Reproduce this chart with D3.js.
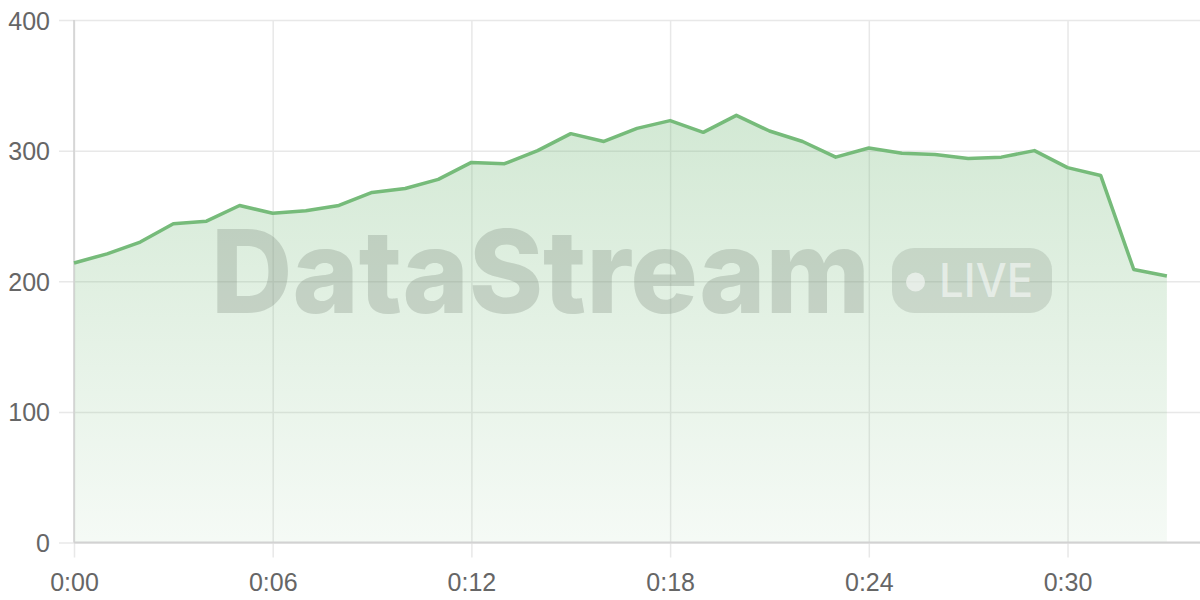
<!DOCTYPE html>
<html>
<head>
<meta charset="utf-8">
<script src="https://cdn.jsdelivr.net/npm/d3@7"></script>
<style>
  html, body { margin: 0; padding: 0; background: #fff; }
  svg { display: block; }
  .tick text { font-family: "Liberation Sans", Arial, sans-serif; font-size: 25px; fill: #666; }
</style>
</head>
<body>
<svg id="chart" width="1200" height="600"></svg>
<script>
// minutes since start, one sample per minute
const minutes = d3.range(0, 34);
const values = [214, 221, 230, 244, 246, 258, 252, 254, 258, 268,
                271, 278, 291, 290, 300, 313, 307, 317, 323, 314,
                327, 315, 307, 295, 302, 298, 297, 294, 295, 300,
                287, 281, 209, 204];
const xTicks = [0, 6, 12, 18, 24, 30];
const yTicks = [0, 100, 200, 300, 400];

const width = 1200, height = 600;
const margin = { top: 20, right: 0, bottom: 57.5, left: 74 };

const svg = d3.select("#chart");
const data = minutes.map((m, i) => ({ m, v: values[i] }));

const x = d3.scaleLinear().domain([0, 34]).range([margin.left, width - margin.right]);
const y = d3.scaleLinear().domain([0, 400]).range([height - margin.bottom, margin.top]);

// gradient for the area
const defs = svg.append("defs");
const grad = defs.append("linearGradient")
    .attr("id", "areaFill")
    .attr("gradientUnits", "userSpaceOnUse")
    .attr("x1", 0).attr("x2", 0)
    .attr("y1", y(d3.max(values))).attr("y2", y(0));
grad.append("stop").attr("offset", "0%").attr("stop-color", "#74b979").attr("stop-opacity", 0.32);
grad.append("stop").attr("offset", "100%").attr("stop-color", "#74b979").attr("stop-opacity", 0.07);

// horizontal grid + y labels
const yAxis = svg.append("g")
    .attr("transform", `translate(${margin.left},0)`)
    .call(d3.axisLeft(y).tickValues(yTicks).tickSize(15).tickPadding(9)
        .tickSizeInner(-(width - margin.left - margin.right)))
yAxis.select(".domain").remove();
yAxis.selectAll(".tick line").attr("stroke", "#e8e8e8").attr("stroke-width", 1.5)
    .attr("x1", -15);
yAxis.selectAll(".tick text").attr("x", -24).attr("dy", "0.36em");

// vertical grid + x labels
const xAxis = svg.append("g")
    .attr("transform", `translate(0,${margin.top})`)
    .call(d3.axisBottom(x).tickValues(xTicks)
        .tickSize(height - margin.bottom - margin.top + 15)
        .tickPadding(10)
        .tickFormat(m => `0:${String(m).padStart(2, "0")}`));
xAxis.select(".domain").remove();
xAxis.selectAll(".tick line").attr("stroke", "#e8e8e8").attr("stroke-width", 1.5);
xAxis.selectAll(".tick text").attr("dy", "0.95em");

// area
svg.append("path")
    .datum(data)
    .attr("fill", "url(#areaFill)")
    .attr("d", d3.area().x(d => x(d.m)).y0(y(0)).y1(d => y(d.v)));

// watermark
const wm = svg.append("g").attr("pointer-events", "none");
wm.append("text")
    .attr("x", 211).attr("y", 313)
    .attr("textLength", 659).attr("lengthAdjust", "spacingAndGlyphs")
    .style("font-family", "Inter, Roboto, sans-serif")
    .style("font-weight", 800)
    .style("font-size", "115px")
    .attr("fill", "#7f8a7f").attr("fill-opacity", 0.3)
    .text("DataStream");
wm.append("rect")
    .attr("x", 892).attr("y", 248).attr("width", 160).attr("height", 65).attr("rx", 22)
    .attr("fill", "#7f8a7f").attr("fill-opacity", 0.24);
wm.append("circle")
    .attr("cx", 915.5).attr("cy", 282).attr("r", 9.5)
    .attr("fill", "#fff").attr("fill-opacity", 0.55);
wm.append("text")
    .attr("x", 939).attr("y", 297)
    .attr("textLength", 94).attr("lengthAdjust", "spacingAndGlyphs")
    .style("font-family", "Inter, Roboto, sans-serif")
    .style("font-weight", 500)
    .style("font-size", "47px")
    .attr("fill", "#fff").attr("fill-opacity", 0.55)
    .text("LIVE");

// axis lines
svg.append("line")
    .attr("x1", x(0)).attr("x2", x(0))
    .attr("y1", margin.top).attr("y2", y(0))
    .attr("stroke", "#d0d0d0").attr("stroke-width", 1.5);
svg.append("line")
    .attr("x1", x(0)).attr("x2", width)
    .attr("y1", y(0)).attr("y2", y(0))
    .attr("stroke", "#d2d2d2").attr("stroke-width", 2);

// line
svg.append("path")
    .datum(data)
    .attr("fill", "none")
    .attr("stroke", "#76bb7a")
    .attr("stroke-width", 3.5)
    .attr("stroke-linejoin", "round")
    .attr("d", d3.line().x(d => x(d.m)).y(d => y(d.v)));
</script>
</body>
</html>
